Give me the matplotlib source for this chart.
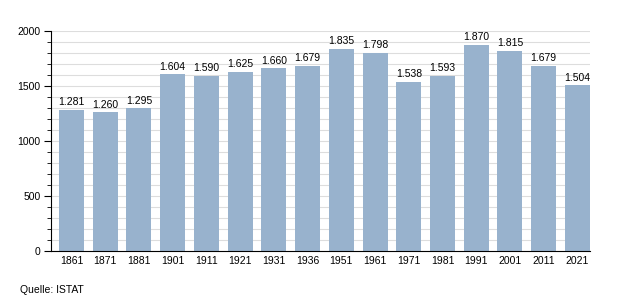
import numpy as np
import matplotlib.pyplot as plt
from matplotlib.ticker import MultipleLocator

plt.rcParams['font.family'] = ['Liberation Sans', 'DejaVu Sans']

years = ['1861', '1871', '1881', '1901', '1911', '1921', '1931', '1936',
         '1951', '1961', '1971', '1981', '1991', '2001', '2011', '2021']
population = [1281, 1260, 1295, 1604, 1590, 1625, 1660, 1679,
              1835, 1798, 1538, 1593, 1870, 1815, 1679, 1504]

fig = plt.figure(figsize=(6.2, 3.0), dpi=100)
ax = fig.add_axes([0.0815, 0.164, 0.870, 0.733])

x = np.arange(len(years))
ax.bar(x, population, width=0.74, color='#98b2cd', zorder=2)

for xi, v in zip(x, population):
    ax.text(xi, v + 25, f"{v:,}".replace(',', '.'), ha='center', va='bottom',
            fontsize=7.5, color='black')

ax.set_xlim(-0.62, len(years) - 0.63)
ax.set_ylim(0, 2000)
ax.set_xticks(x)
ax.set_xticklabels(years, fontsize=7.5)
ax.tick_params(axis='x', length=0, pad=4)
ax.yaxis.set_major_locator(MultipleLocator(500))
ax.yaxis.set_minor_locator(MultipleLocator(100))
ax.tick_params(axis='y', which='major', length=5, labelsize=7.5, pad=2)
ax.tick_params(axis='y', which='minor', length=3)
ax.grid(True, which='both', axis='y', color='#dddddd', linewidth=0.8, zorder=0)

for side in ['top', 'right']:
    ax.spines[side].set_visible(False)

fig.text(0.032, 0.024, "Quelle: ISTAT", fontsize=7.5)

fig.savefig('out.png', dpi=100)
